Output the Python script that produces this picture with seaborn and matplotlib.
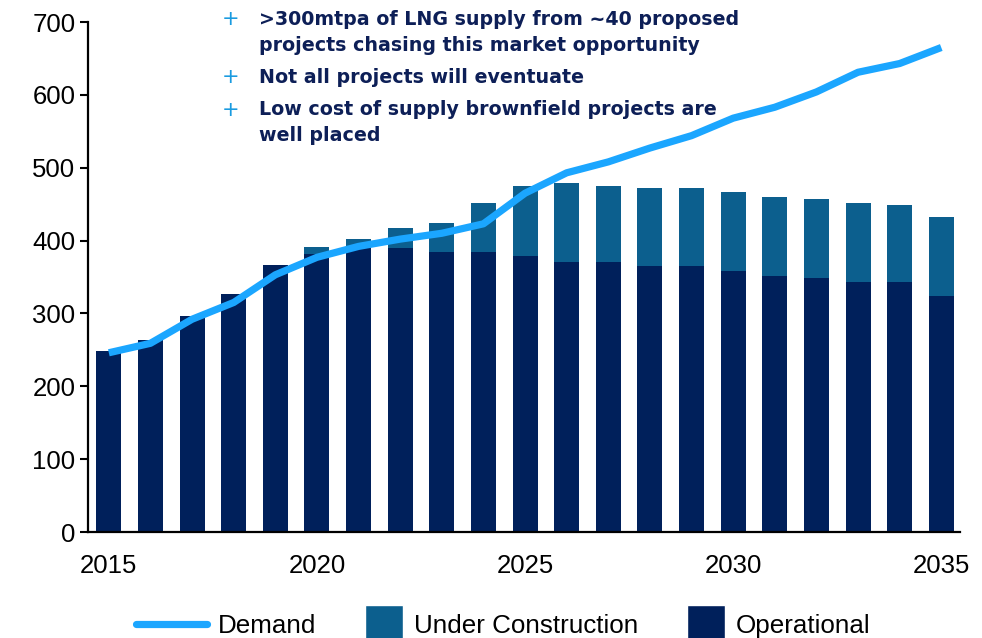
import matplotlib
matplotlib.use("Agg")
import matplotlib.pyplot as plt
from matplotlib.patches import Rectangle
from matplotlib.lines import Line2D
from matplotlib.legend_handler import HandlerPatch
import seaborn as sns
import pandas as pd

# LNG supply vs demand (mtpa)
years = list(range(2015, 2036))
operational = [249, 264, 297, 327, 367, 382, 390, 390, 384, 384, 379,
               371, 371, 365, 365, 358, 351, 349, 343, 343, 324]
under_construction = [0, 0, 0, 0, 0, 9, 12, 27, 40, 68, 96,
                      108, 104, 107, 107, 109, 109, 108, 109, 106, 108]
demand = [246, 259, 292, 315, 353, 377, 392, 402, 410, 423, 465,
          493, 508, 527, 544, 568, 583, 604, 631, 643, 665]
x_ticks = [2015, 2020, 2025, 2030, 2035]
y_ticks = [0, 100, 200, 300, 400, 500, 600, 700]

bullets = [
    [">300mtpa of LNG supply from ~40 proposed",
     "projects chasing this market opportunity"],
    ["Not all projects will eventuate"],
    ["Low cost of supply brownfield projects are",
     "well placed"],
]

C_OPER = "#00205b"
C_UC = "#0c5f8e"
C_DEMAND = "#1ba6ff"
C_TEXT = "#0d1f57"
C_PLUS = "#1a9be0"

df = pd.DataFrame({
    "year": years,
    "operational": operational,
    "total": [o + u for o, u in zip(operational, under_construction)],
    "demand": demand,
})

sns.set_style("white")
plt.rcParams["font.family"] = ["Liberation Sans", "DejaVu Sans"]

W, H = 982, 638
fig = plt.figure(figsize=(W / 100, H / 100), dpi=100)
ax = fig.add_axes([88 / W, 1 - 532 / H, (960 - 88) / W, (532 - 22) / H])

sns.barplot(data=df, x="year", y="total", native_scale=True, color=C_UC,
            width=0.6, saturation=1, linewidth=0, ax=ax)
sns.barplot(data=df, x="year", y="operational", native_scale=True, color=C_OPER,
            width=0.6, saturation=1, linewidth=0, ax=ax)
sns.lineplot(data=df, x="year", y="demand", color=C_DEMAND, linewidth=5.2,
             ax=ax, solid_capstyle="butt")

ax.set_xlim(2014.5, 2035.45)
ax.set_ylim(0, 700)
ax.set_xticks(x_ticks)
ax.set_yticks(y_ticks)
ax.set_xlabel("")
ax.set_ylabel("")
for s in ("top", "right"):
    ax.spines[s].set_visible(False)
for s in ("left", "bottom"):
    ax.spines[s].set_linewidth(1.6)
    ax.spines[s].set_color("black")
ax.tick_params(axis="y", direction="out", length=6, width=1.5, pad=3,
               labelsize=18.5, colors="black", left=True)
ax.tick_params(axis="x", length=0, pad=16, labelsize=18.5, colors="black")
ax.grid(False)

# bullet notes: one "+" per bullet, each wrapped line placed on its own baseline
line_gap = 26
first_baselines = [25, 83, 115]
plus_centers = [19, 77, 110]
for lines, yb, yp in zip(bullets, first_baselines, plus_centers):
    fig.text(231 / W, 1 - yp / H, "+", color=C_PLUS, fontsize=15,
             ha="center", va="center", family="DejaVu Sans")
    for i, line in enumerate(lines):
        fig.text(259 / W, 1 - (yb + i * line_gap) / H, line, color=C_TEXT,
                 fontsize=13.7, fontweight="bold", ha="left", va="baseline",
                 family="DejaVu Sans")


def square_patch(legend, orig_handle, xdescent, ydescent, width, height, fontsize):
    side = 38 * 0.72  # 38 px square in points
    return Rectangle((width - xdescent - side, -ydescent + height / 2 - side / 2),
                     side, side)


handles = [
    Line2D([], [], color=C_DEMAND, linewidth=5.2),
    Rectangle((0, 0), 1, 1, facecolor=C_UC),
    Rectangle((0, 0), 1, 1, facecolor=C_OPER),
]
labels = ["Demand", "Under Construction", "Operational"]
fig.legend(handles, labels, loc="center", bbox_to_anchor=(503 / W, 12 / H),
           ncol=3, frameon=False, fontsize=18.7, handlelength=2.75,
           handletextpad=0.4, columnspacing=0.6, borderpad=0, labelcolor="black",
           handler_map={Rectangle: HandlerPatch(patch_func=square_patch)})

fig.savefig("out.png", dpi=100)
